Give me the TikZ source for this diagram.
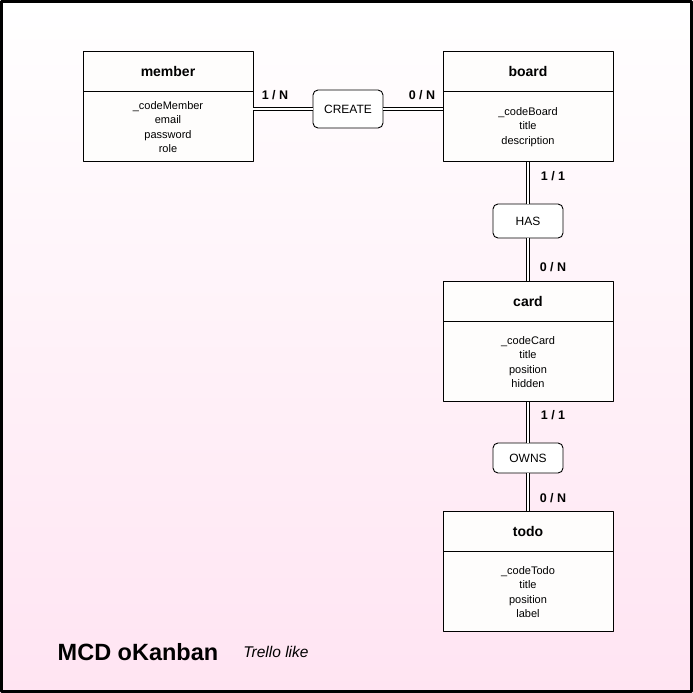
\documentclass[tikz,border=0pt]{standalone}
\usepackage{fontspec}
\setmainfont{Liberation Sans}
\usetikzlibrary{positioning}
\definecolor{pinkbg}{RGB}{255,228,242}
\definecolor{boxfill}{RGB}{254,253,252}
\begin{document}
\begin{tikzpicture}[x=1pt,y=-1pt,line join=round,
	head/.style={draw,line width=0.9pt,fill=boxfill,minimum width=170pt,minimum height=40pt,inner sep=0pt,font=\fontsize{14}{16}\selectfont\bfseries},
	body/.style={draw,line width=0.9pt,fill=boxfill,minimum width=170pt,inner sep=0pt,align=center,font=\fontsize{11}{14.5}\selectfont},
	rel/.style={draw,line width=0.9pt,fill=white,rounded corners=5pt,minimum width=70pt,inner sep=0pt,font=\fontsize{12}{14}\selectfont},
	link/.style={double distance=2.5pt,line width=1pt},
	cardin/.style={font=\fontsize{12.5}{14}\selectfont\bfseries}]
	\useasboundingbox (0,0) rectangle (693,693);
	\shade[top color=white,bottom color=pinkbg] (0,0) rectangle (693,693);
	% entities
	\node[head] (memberhead) at (168,71) {member};
	\node[body,minimum height=70pt,below=0pt of memberhead] (member) {\_codeMember\\email\\password\\role};
	\node[head] (boardhead) at (528,71) {board};
	\node[body,minimum height=70pt,below=0pt of boardhead] (board) {\_codeBoard\\title\\description};
	\node[head] (cardhead) at (528,301) {card};
	\node[body,minimum height=80pt,below=0pt of cardhead] (card) {\_codeCard\\title\\position\\hidden};
	\node[head] (todohead) at (528,531) {todo};
	\node[body,minimum height=80pt,below=0pt of todohead] (todo) {\_codeTodo\\title\\position\\label};
	% associations
	\node[rel,minimum height=38pt] (create) at (348,109) {CREATE};
	\node[rel,minimum height=34pt] (has) at (528,221) {HAS};
	\node[rel,minimum height=30pt] (owns) at (528,458) {OWNS};
	\draw[link] (create.west -| member.east) -- (create.west);
	\draw[link] (create.east) -- (create.east -| board.west);
	\draw[link] (board.south) -- (has.north);
	\draw[link] (has.south) -- (cardhead.north);
	\draw[link] (card.south) -- (owns.north);
	\draw[link] (owns.south) -- (todohead.north);
	% cardinalities
	\node[cardin] (c1) at (275,95) {1 / N};
	\node[cardin] (c2) at (422,95) {0 / N};
	\node[cardin] (c3) at (553,176) {1 / 1};
	\node[cardin] (c4) at (553,267) {0 / N};
	\node[cardin] (c5) at (553,415) {1 / 1};
	\node[cardin] (c6) at (553,498) {0 / N};
	% title
	\node[font=\fontsize{23.5}{26}\selectfont\bfseries] (title) at (138,652) {MCD oKanban};
	\node[font=\fontsize{15.5}{17}\selectfont\itshape,right=18pt of title] (subtitle) {Trello like};
	\draw[line width=3pt] (1.5,1.5) rectangle (691.5,691.5);
\end{tikzpicture}
\end{document}
